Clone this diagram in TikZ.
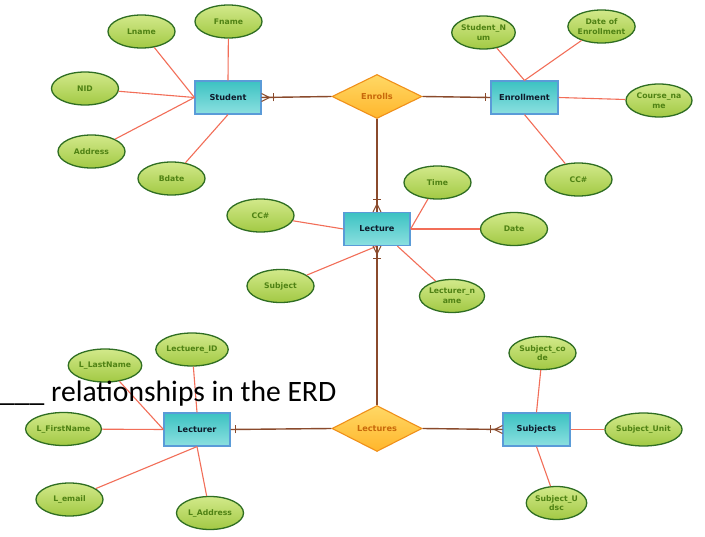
\documentclass[tikz,border=0pt]{standalone}
\usepackage{fontspec}
\setmainfont{DejaVu Sans}
\newfontfamily\capfont{Carlito}
\usetikzlibrary{shapes.geometric,calc}

\definecolor{attrline}{HTML}{F26E58}
\definecolor{relline}{HTML}{8A4A2C}
\definecolor{entborder}{HTML}{5A9BD8}
\definecolor{enttop}{HTML}{3CC2C2}
\definecolor{entbot}{HTML}{8CE0E0}
\definecolor{reltop}{HTML}{FFD865}
\definecolor{relbot}{HTML}{FFB62C}
\definecolor{relborder}{HTML}{F0901A}
\definecolor{reltext}{HTML}{C8680A}
\definecolor{atttop}{HTML}{D2E98A}
\definecolor{attbot}{HTML}{A2C944}
\definecolor{attborder}{HTML}{2F6E22}
\definecolor{atttext}{HTML}{4F8214}
\definecolor{enttext}{HTML}{0E1A2A}

\tikzset{
  entity/.style={rectangle, draw=entborder, line width=1.2pt, top color=enttop, bottom color=entbot,
    minimum width=66pt, minimum height=33pt, inner sep=0pt,
    font=\bfseries\fontsize{8.2}{9}\selectfont, text=enttext},
  relation/.style={diamond, draw=relborder, line width=1.1pt, top color=reltop, bottom color=relbot,
    minimum width=90pt, minimum height=44pt, inner sep=0pt,
    font=\bfseries\fontsize{8.2}{9}\selectfont, text=reltext},
  attr/.style={ellipse, draw=attborder, line width=1.3pt, top color=atttop, bottom color=attbot,
    minimum width=67pt, minimum height=33pt, inner sep=0pt, align=center,
    font=\bfseries\fontsize{7.7}{9.6}\selectfont, text=atttext},
  aline/.style={draw=attrline, line width=1.1pt},
  rline/.style={draw=relline, line width=1.4pt},
  tipline/.style={draw=relline, line width=1pt}
}

\newcommand\crowend[3]{%
  \draw[tipline] ($(#1)+8*(#2,#3)$) -- ($(#1)+4*(#3,#2)$)
    ($(#1)+8*(#2,#3)$) -- (#1)
    ($(#1)+8*(#2,#3)$) -- ($(#1)-4*(#3,#2)$);
  \draw[tipline] ($(#1)+12*(#2,#3)+4*(#3,#2)$) -- ($(#1)+12*(#2,#3)-4*(#3,#2)$);}
\newcommand\barend[3]{%
  \draw[tipline] ($(#1)+5*(#2,#3)+4*(#3,#2)$) -- ($(#1)+5*(#2,#3)-4*(#3,#2)$);}

\begin{document}
\begin{tikzpicture}[x=1pt,y=-1pt]
\useasboundingbox[fill=white] (0,0) rectangle (705,537);

% entities
\node[entity] (Student) at (228,97.5) {Student};
\node[entity, minimum width=67pt] (Enrollment) at (524.5,97.5) {Enrollment};
\node[entity] (Lecture) at (377,229) {Lecture};
\node[entity] (Lecturer) at (197,429.5) {Lecturer};
\node[entity, minimum width=67pt] (Subjects) at (536.5,429.5) {Subjects};

% relationships
\node[relation] (Enrolls) at (377,96.5) {Enrolls};
\node[relation] (Lectures) at (377,428.5) {Lectures};

% attributes
\node[attr] (Lname) at (141.5,31.5) {Lname};
\node[attr] (Fname) at (228.5,21.5) {Fname};
\node[attr] (NID) at (85,88.5) {NID};
\node[attr] (Address) at (91.5,151.5) {Address};
\node[attr] (Bdate) at (171.5,178.5) {Bdate};

\node[attr, minimum width=61pt] (StudentNum) at (483.5,32.5) {Student\_N\\um};
\node[attr] (DateEnr) at (601.5,26.5) {Date of\\Enrollment};
\node[attr, minimum width=66pt] (CourseName) at (659,100.5) {Course\_na\\me};
\node[attr] (CCa) at (578.5,179.5) {CC\#};

\node[attr] (Time) at (437.5,182.5) {Time};
\node[attr] (CCb) at (260.5,215.5) {CC\#};
\node[attr] (Date) at (514,229) {Date};
\node[attr] (SubjectAttr) at (280.5,286) {Subject};
\node[attr, minimum width=62pt] (LecturerName) at (452,296) {Lecturer\_n\\ame};

\node[attr, minimum width=70pt] (LectID) at (192,349.5) {Lectuere\_ID};
\node[attr, minimum width=70pt] (LLast) at (105,365.5) {L\_LastName};
\node[attr, minimum width=69pt] (LFirst) at (63.5,429) {L\_FirstName};
\node[attr] (Lemail) at (69.5,499.5) {L\_email};
\node[attr] (LAddr) at (210,513) {L\_Address};

\node[attr] (SCode) at (542.5,353) {Subject\_co\\de};
\node[attr, minimum width=65pt] (SUnit) at (643.5,429.5) {Subject\_Unit};
\node[attr, minimum width=59pt] (SUdsc) at (556.5,503) {Subject\_U\\dsc};

% attribute links
\draw[aline] (Lname) -- (Student.west);
\draw[aline] (Fname) -- (Student.north);
\draw[aline] (NID) -- (Student.west);
\draw[aline] (Address) -- (Student.west);
\draw[aline] (Bdate) -- (Student.south);

\draw[aline] (StudentNum) -- (Enrollment.north);
\draw[aline] (DateEnr) -- (Enrollment.north);
\draw[aline] (CourseName) -- (Enrollment.east);
\draw[aline] (CCa) -- (Enrollment.south);

\draw[aline] (CCb) -- (Lecture.west);
\draw[aline] (Time) -- (Lecture.east);
\draw[aline] (Date) -- (Lecture.east);
\draw[aline] (SubjectAttr) -- (Lecture.south);
\draw[aline] (LecturerName) -- (Lecture.-40);

\draw[aline] (LectID) -- (Lecturer.north);
\draw[aline] (LLast) -- (Lecturer.west);
\draw[aline] (LFirst) -- (Lecturer.west);
\draw[aline] (Lemail) -- (Lecturer.south);
\draw[aline] (LAddr) -- (Lecturer.south);

\draw[aline] (SCode) -- (Subjects.north);
\draw[aline] (SUnit) -- (Subjects.east);
\draw[aline] (SUdsc) -- (Subjects.south);

% relationship links
\draw[rline] (Student.east) -- (Enrolls.west);
\draw[rline] (Enrolls.east) -- (Enrollment.west);
\draw[rline] (Enrolls.south) -- (Lecture.north);
\draw[rline] (Lecture.south) -- (Lectures.north);
\draw[rline] (Lecturer.east) -- (Lectures.west);
\draw[rline] (Lectures.east) -- (Subjects.west);

\crowend{Student.east}{1}{0}
\barend{Enrollment.west}{-1}{0}
\crowend{Lecture.north}{0}{-1}
\crowend{Lecture.south}{0}{1}
\barend{Lecturer.east}{1}{0}
\crowend{Subjects.west}{-1}{0}

% overlay caption
\node[anchor=base west, inner sep=0pt, font=\capfont\fontsize{29.6}{31}\selectfont, text=black] (caption) at (0,402) {\_\_\_ relationships in the ERD};
\end{tikzpicture}
\end{document}
